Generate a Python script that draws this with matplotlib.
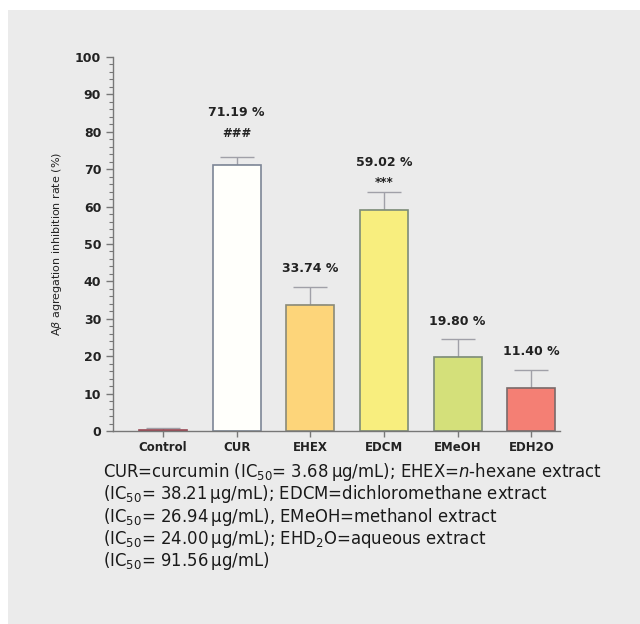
import numpy as np
import matplotlib
matplotlib.use('Agg')
import matplotlib.pyplot as plt
from matplotlib.patches import Rectangle
from matplotlib.ticker import MultipleLocator

## dados
grupos = ['Control', 'CUR', 'EHEX', 'EDCM', 'EMeOH', 'EDH2O']
valores = [0.3, 71.19, 33.74, 59.02, 19.80, 11.40]
erros = [0.4, 2.0, 4.8, 5.0, 4.8, 5.0]
rotulos = ['', '71.19 %', '33.74 %', '59.02 %', '19.80 %', '11.40 %']
signif = ['', '###', '', '***', '', '']
cores = ['#ebebeb', '#fffffb', '#fdd57a', '#f8ee7e', '#d4e07a', '#f47f74']
bordas = ['#9a4a55', '#7d8696', '#8a8a78', '#7d8c78', '#7d8c78', '#7a6a6a']

legenda = ['CUR=curcumin (IC$_{50}$= 3.68\u2009μg/mL); EHEX=$n$-hexane extract',
           '(IC$_{50}$= 38.21\u2009μg/mL); EDCM=dichloromethane extract',
           '(IC$_{50}$= 26.94\u2009μg/mL), EMeOH=methanol extract',
           '(IC$_{50}$= 24.00\u2009μg/mL); EHD$_2$O=aqueous extract',
           '(IC$_{50}$= 91.56\u2009μg/mL)']

fig = plt.figure(figsize=(6.4, 6.24), dpi=100)
fig.patch.set_facecolor('white')
fig.patches.append(Rectangle((8/640, 0), 1, 1 - 10/624, transform=fig.transFigure,
                             facecolor='#ebebeb', edgecolor='none', zorder=-10))

ax = fig.add_axes([113/640, 1 - 431/624, (560 - 113)/640, (431 - 57)/624])
ax.set_facecolor('none')

x = np.arange(len(grupos))
ax.bar(x, valores, width=0.65, color=cores, edgecolor=bordas, linewidth=1.2, zorder=2)
ax.errorbar(x, valores, yerr=[np.zeros(len(erros)), erros], fmt='none',
            ecolor='#a0a0a8', elinewidth=1, capsize=12, capthick=1, zorder=1)

## rótulos acima das barras
for i in range(len(grupos)):
    topo = valores[i] + erros[i]
    if signif[i] == '###':
        ax.text(x[i], topo + 6.3, signif[i], ha='center', va='center',
                fontsize=8.5, fontweight='bold', color='#222222')
        ax.text(x[i], topo + 12.1, rotulos[i], ha='center', va='center',
                fontsize=9, fontweight='bold', color='#222222')
    elif signif[i]:
        ax.text(x[i], topo + 2.4, signif[i], ha='center', va='center',
                fontsize=8.5, fontweight='bold', color='#222222')
        ax.text(x[i], topo + 7.7, rotulos[i], ha='center', va='center',
                fontsize=9, fontweight='bold', color='#222222')
    elif rotulos[i]:
        ax.text(x[i], topo + 4.8, rotulos[i], ha='center', va='center',
                fontsize=9, fontweight='bold', color='#222222')

ax.set_xlim(-0.68, 5.39)
ax.set_ylim(0, 100)
ax.set_xticks(x)
ax.set_xticklabels(grupos, fontsize=8.5, fontweight='bold', color='#222222')
ax.yaxis.set_major_locator(MultipleLocator(10))
ax.yaxis.set_minor_locator(MultipleLocator(2))
ax.tick_params(axis='y', which='major', length=5, width=1, color='#777777',
               labelsize=9, labelcolor='#222222')
ax.tick_params(axis='y', which='minor', length=3, width=0.8, color='#777777')
ax.tick_params(axis='x', length=4, width=1, color='#777777', pad=3)
for lbl in ax.get_yticklabels():
    lbl.set_fontweight('bold')

for s in ['top', 'right']:
    ax.spines[s].set_visible(False)
for s in ['left', 'bottom']:
    ax.spines[s].set_color('#777777')
    ax.spines[s].set_linewidth(1)

ax.set_ylabel(r'A$\beta$ agregation inhibition rate (%)', fontsize=8, color='#222222', labelpad=8)

## legenda embaixo, uma linha por vez
for k, linha in enumerate(legenda):
    fig.text(103/640, 1 - (477 + 22.3*k)/624, linha, ha='left', va='baseline',
             fontsize=11.9, color='#1a1a1a')

fig.savefig('out.png', dpi=100)
